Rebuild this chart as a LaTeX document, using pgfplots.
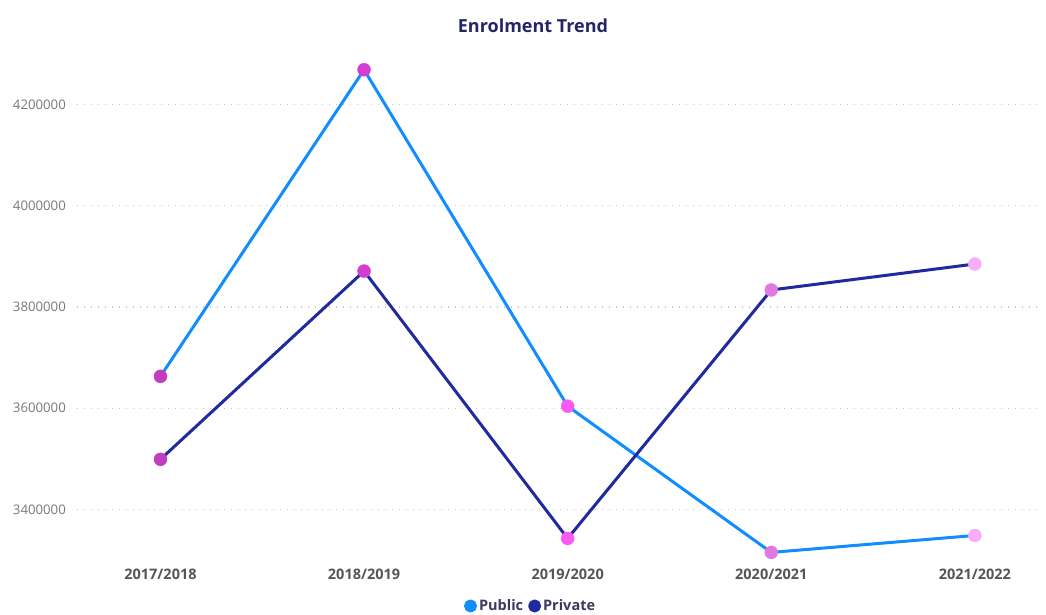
\documentclass[border=0pt]{standalone}
\usepackage{pgfplots}
\usepackage{pgfplotstable}
\pgfplotsset{compat=1.18}
\usepackage{fontspec}
\setmainfont{Open Sans}
\definecolor{pub}{HTML}{118DFF}
\definecolor{priv}{HTML}{1E2A9E}
\definecolor{ma}{HTML}{C23CC0}
\definecolor{mb}{HTML}{D23ED2}
\definecolor{mc}{HTML}{F85AF2}
\definecolor{md}{HTML}{E07ADE}
\definecolor{me}{HTML}{F8AEF6}
\definecolor{ticklab}{HTML}{7A7876}
\definecolor{xlab}{HTML}{555555}
\definecolor{titlec}{HTML}{252468}
\definecolor{legtext}{HTML}{3A3A60}

\pgfplotstableread{
x pub priv cls
0 3663000 3499000 a
1 4269000 3871000 b
2 3604000 3342600 c
3 3315000 3833700 d
4 3348500 3885000 e
}\data

\begin{document}
\begin{tikzpicture}
\useasboundingbox (0,0) rectangle (1046pt,615pt);
\node[font=\fontsize{18}{20}\selectfont\bfseries, text=titlec] at (533pt,589pt) {Enrolment Trend};
\begin{axis}[
  at={(77pt,55pt)}, anchor=south west,
  scale only axis, width=963pt, height=511pt,
  xmin=-0.41, xmax=4.32, ymin=3300000, ymax=4310000,
  axis line style={draw=none},
  major tick length=0pt,
  tick style={draw=none},
  xtick={0,1,2,3,4},
  xticklabels={2017/2018,2018/2019,2019/2020,2020/2021,2021/2022},
  ytick={3400000,3600000,3800000,4000000,4200000},
  scaled y ticks=false,
  yticklabel style={font=\fontsize{13.2}{15}\selectfont, text=ticklab, inner sep=0pt, xshift=-11pt,
    /pgf/number format/.cd, fixed, 1000 sep={}, assume math mode=true},
  xticklabel style={font=\fontsize{14.5}{16}\selectfont\bfseries, text=xlab, inner sep=0pt, yshift=-9pt},
  ymajorgrids,
  grid style={line width=1.3pt, color=black!22, dash pattern=on 1.3pt off 5.7pt},
  clip=false,
  legend style={at={(0.471,-0.09)}, anchor=center, draw=none, fill=none,
    legend columns=2, font=\fontsize{14.5}{17}\selectfont\bfseries, text=legtext,
    /tikz/every even column/.append style={column sep=3pt},
    /tikz/every odd column/.append style={column sep=0pt},
    inner sep=0pt},
  legend cell align=left,
  legend image code/.code={\fill[#1] (5pt,0pt) circle (5pt);},
]
\addplot[pub, line width=3pt, line join=round, no markers] table[x=x,y=pub] {\data};
\addlegendentry{Public}
\addplot[priv, line width=3pt, line join=round, no markers] table[x=x,y=priv] {\data};
\addlegendentry{Private}
\addplot[scatter, only marks, forget plot, scatter src=explicit symbolic,
  scatter/classes={
    a={mark=*, mark size=6.5pt, ma, draw=none},
    b={mark=*, mark size=6.5pt, mb, draw=none},
    c={mark=*, mark size=6.5pt, mc, draw=none},
    d={mark=*, mark size=6.5pt, md, draw=none},
    e={mark=*, mark size=6.5pt, me, draw=none}}]
  table[x=x,y=pub,meta=cls] {\data};
\addplot[scatter, only marks, forget plot, scatter src=explicit symbolic,
  scatter/classes={
    a={mark=*, mark size=6.5pt, ma, draw=none},
    b={mark=*, mark size=6.5pt, mb, draw=none},
    c={mark=*, mark size=6.5pt, mc, draw=none},
    d={mark=*, mark size=6.5pt, md, draw=none},
    e={mark=*, mark size=6.5pt, me, draw=none}}]
  table[x=x,y=priv,meta=cls] {\data};
\end{axis}
\end{tikzpicture}
\end{document}
